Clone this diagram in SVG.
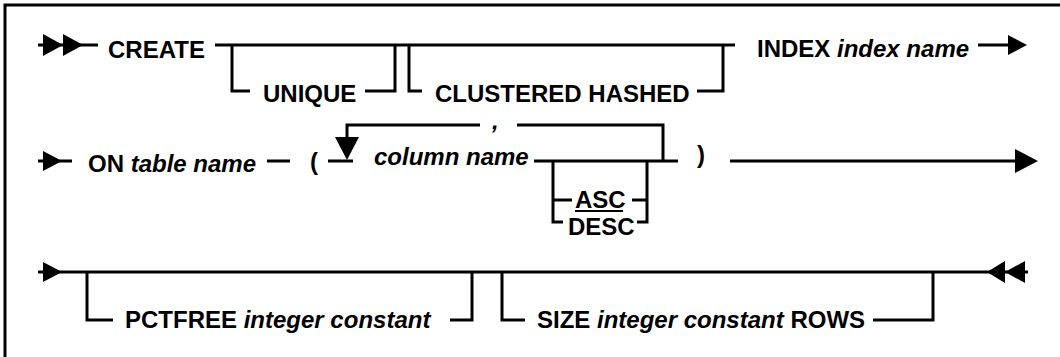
<svg xmlns="http://www.w3.org/2000/svg" width="1060" height="357" viewBox="0 0 1060 357">
<style>
.t{font-family:"Liberation Sans",Arial,sans-serif;font-weight:bold;font-size:24px;fill:#000}
.i{font-style:italic}
.ln{fill:none;stroke:#000;stroke-width:3}
.ah{fill:#000;stroke:none}
</style>
<rect width="1060" height="357" fill="#fff"/>
<g id="frame"><path class="ln" d="M5 357 V5 H1060"/></g>
<g id="connectors">
<!-- row 1 -->
<path class="ln" d="M38 45 H98"/>
<polygon class="ah" points="43,34 63,45 43,56"/>
<polygon class="ah" points="63,34 83,45 63,56"/>
<path class="ln" d="M215 45 H735"/>
<path class="ln" d="M232 45 V91 H250"/>
<path class="ln" d="M365 91 H395 V45"/>
<path class="ln" d="M409 45 V91 H422"/>
<path class="ln" d="M697 91 H723 V45"/>
<path class="ln" d="M978 45 H1010"/>
<polygon class="ah" points="1008,35 1027,45 1008,55"/>
<!-- row 2 -->
<path class="ln" d="M38 161 H72"/>
<polygon class="ah" points="43,151 62,161 43,171"/>
<path class="ln" d="M267 161 H290"/>
<path class="ln" d="M328 161 H353"/>
<path class="ln" d="M347 140 V125 H480"/>
<path class="ln" d="M517 125 H663 V161"/>
<polygon class="ah" points="335,137 359,137 347,160"/>
<path class="ln" d="M534 161 H678"/>
<path class="ln" d="M553 161 V222 H563"/>
<path class="ln" d="M647 161 V222 H637"/>
<path class="ln" d="M553 200 H572"/>
<path class="ln" d="M632 200 H647"/>
<path d="M575 211 H623" stroke="#000" stroke-width="2"/>
<path class="ln" d="M730 161 H1017"/>
<polygon class="ah" points="1015,149 1038,161 1015,173"/>
<!-- row 3 -->
<path class="ln" d="M38 272 H1028"/>
<polygon class="ah" points="43,262 62,272 43,282"/>
<path class="ln" d="M87 272 V320 H113"/>
<path class="ln" d="M450 320 H472 V272"/>
<path class="ln" d="M502 272 V320 H525"/>
<path class="ln" d="M873 320 H933 V272"/>
<polygon class="ah" points="987,272 1005,261 1005,283"/>
<polygon class="ah" points="1005,272 1025,261 1025,283"/>
</g>
<g id="create"><text class="t" x="108" y="58">CREATE</text></g>
<g id="unique"><text class="t" x="263" y="102">UNIQUE</text></g>
<g id="clustered"><text class="t" x="435" y="102">CLUSTERED HASHED</text></g>
<g id="index"><text class="t" x="757" y="57">INDEX <tspan class="i">index name</tspan></text></g>
<g id="on"><text class="t" x="88" y="172">ON <tspan class="i">table name</tspan></text></g>
<g id="lparen"><text class="t" x="310" y="170">(</text></g>
<g id="comma"><text class="t i" x="492" y="129">,</text></g>
<g id="column"><text class="t i" x="374" y="165">column name</text></g>
<g id="asc"><text class="t" x="575" y="208">ASC</text></g>
<g id="desc"><text class="t" x="568" y="235">DESC</text></g>
<g id="rparen"><text class="t" x="697" y="163">)</text></g>
<g id="pctfree"><text class="t" x="125" y="328">PCTFREE <tspan class="i">integer constant</tspan></text></g>
<g id="size"><text class="t" x="537" y="328">SIZE <tspan class="i">integer constant</tspan> ROWS</text></g>
</svg>
